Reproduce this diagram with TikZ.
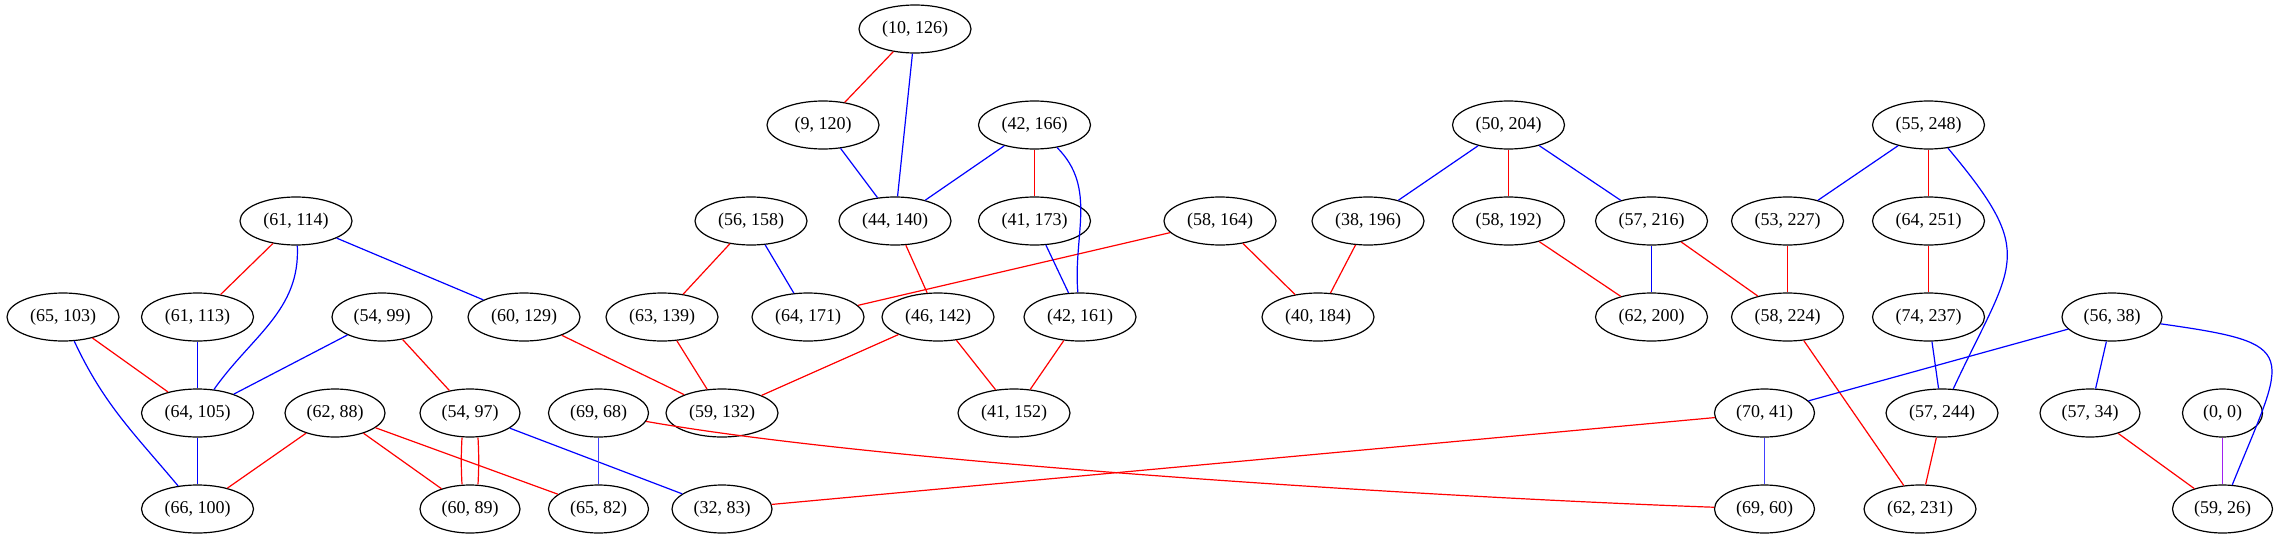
\documentclass[tikz,border=0pt]{standalone}
\usepackage{fontspec}
\setmainfont{Liberation Serif}
\usetikzlibrary{shapes.geometric}

\definecolor{lblue}{RGB}{64,64,255}
\definecolor{vpurple}{RGB}{160,32,240}

\begin{document}
\begin{tikzpicture}[x=0.75pt,y=-0.75pt,
    vtx/.style={draw,ellipse,line width=0.9pt,inner sep=0pt,minimum height=36pt,minimum width=84pt,font=\fontsize{13.5pt}{16pt}\selectfont},
    vtxs/.style={vtx,minimum width=75pt},
    vtxt/.style={vtx,minimum width=60pt},
    re/.style={red,line width=0.9pt},
    be/.style={blue,line width=0.9pt},
    lbe/.style={lblue,line width=0.9pt},
    pe/.style={vpurple,line width=0.9pt}]

    % white page
    \useasboundingbox (0,0) rectangle (2282,539);

    % rank 0 and 1
    \node[vtx]  (n10x126) at (915,29)  {(10, 126)};
    \node[vtx]  (n9x120)  at (823,125) {(9, 120)};
    \node[vtx]  (n42x166) at (1034.5,125) {(42, 166)};
    \node[vtx]  (n50x204) at (1508.5,125) {(50, 204)};
    \node[vtx]  (n55x248) at (1928.5,125) {(55, 248)};

    % rank 2
    \node[vtx]  (n61x114) at (296,221)  {(61, 114)};
    \node[vtx]  (n56x158) at (751,221)  {(56, 158)};
    \node[vtx]  (n44x140) at (895,221)  {(44, 140)};
    \node[vtx]  (n41x173) at (1034.5,221) {(41, 173)};
    \node[vtx]  (n58x164) at (1220,221) {(58, 164)};
    \node[vtx]  (n38x196) at (1368,221) {(38, 196)};
    \node[vtx]  (n58x192) at (1508.5,221) {(58, 192)};
    \node[vtx]  (n57x216) at (1651.5,221) {(57, 216)};
    \node[vtx]  (n53x227) at (1787.5,221) {(53, 227)};
    \node[vtx]  (n64x251) at (1928.5,221) {(64, 251)};

    % rank 3
    \node[vtx]  (n65x103) at (63,317)   {(65, 103)};
    \node[vtx]  (n61x113) at (197.5,317)  {(61, 113)};
    \node[vtxs] (n54x99)  at (382,317)  {(54, 99)};
    \node[vtx]  (n60x129) at (524,317)  {(60, 129)};
    \node[vtx]  (n63x139) at (662,317)  {(63, 139)};
    \node[vtx]  (n64x171) at (808,317)  {(64, 171)};
    \node[vtx]  (n46x142) at (938,317)  {(46, 142)};
    \node[vtx]  (n42x161) at (1080,317) {(42, 161)};
    \node[vtx]  (n40x184) at (1318,317) {(40, 184)};
    \node[vtx]  (n62x200) at (1651.5,317) {(62, 200)};
    \node[vtx]  (n58x224) at (1787.5,317) {(58, 224)};
    \node[vtx]  (n74x237) at (1928.5,317) {(74, 237)};
    \node[vtxs] (n56x38)  at (2112,317) {(56, 38)};

    % rank 4
    \node[vtx]  (n64x105) at (197.5,413)  {(64, 105)};
    \node[vtxs] (n62x88)  at (335,413)  {(62, 88)};
    \node[vtxs] (n54x97)  at (470,413)  {(54, 97)};
    \node[vtxs] (n69x68)  at (598.5,413)  {(69, 68)};
    \node[vtx]  (n59x132) at (722,413)  {(59, 132)};
    \node[vtx]  (n41x152) at (1014,413) {(41, 152)};
    \node[vtxs] (n70x41)  at (1764.5,413) {(70, 41)};
    \node[vtx]  (n57x244) at (1942,413) {(57, 244)};
    \node[vtxs] (n57x34)  at (2090,413) {(57, 34)};
    \node[vtxt] (n0x0)    at (2222.5,413) {(0, 0)};

    % rank 5
    \node[vtx]  (n66x100) at (197.5,509)  {(66, 100)};
    \node[vtxs] (n60x89)  at (470,509)  {(60, 89)};
    \node[vtxs] (n65x82)  at (598.5,509)  {(65, 82)};
    \node[vtxs] (n32x83)  at (722,509)  {(32, 83)};
    \node[vtxs] (n69x60)  at (1764.5,509) {(69, 60)};
    \node[vtx]  (n62x231) at (1920,509) {(62, 231)};
    \node[vtxs] (n59x26)  at (2222.5,509) {(59, 26)};

    % red edges
    \draw[re] (n10x126) -- (n9x120);
    \draw[re] (n42x166) -- (n41x173);
    \draw[re] (n50x204) -- (n58x192);
    \draw[re] (n55x248) -- (n64x251);
    \draw[re] (n61x114) -- (n61x113);
    \draw[re] (n56x158) -- (n63x139);
    \draw[re] (n44x140) -- (n46x142);
    \draw[re] (n58x164) -- (n64x171);
    \draw[re] (n58x164) -- (n40x184);
    \draw[re] (n38x196) -- (n40x184);
    \draw[re] (n58x192) -- (n62x200);
    \draw[re] (n57x216) -- (n58x224);
    \draw[re] (n53x227) -- (n58x224);
    \draw[re] (n64x251) -- (n74x237);
    \draw[re] (n65x103) -- (n64x105);
    \draw[re] (n54x99) -- (n54x97);
    \draw[re] (n60x129) -- (n59x132);
    \draw[re] (n63x139) -- (n59x132);
    \draw[re] (n46x142) -- (n59x132);
    \draw[re] (n46x142) -- (n41x152);
    \draw[re] (n42x161) -- (n41x152);
    \draw[re] (n58x224) -- (n62x231);
    \draw[re] (n57x244) -- (n62x231);
    \draw[re] (n62x88) -- (n66x100);
    \draw[re] (n62x88) -- (n60x89);
    \draw[re] (n62x88) -- (n65x82);
    \draw[re] ([xshift=-6pt]n54x97.south) to[bend right=3] ([xshift=-6pt]n60x89.north);
    \draw[re] ([xshift=6pt]n54x97.south) to[bend left=3] ([xshift=6pt]n60x89.north);
    \draw[re] (n69x68) to[out=-10,in=178,looseness=0.6] (n69x60);
    \draw[re] (n70x41) -- (n32x83);
    \draw[re] (n57x34) -- (n59x26);

    % blue edges
    \draw[be] (n10x126) -- (n44x140);
    \draw[be] (n9x120) -- (n44x140);
    \draw[be] (n42x166) -- (n44x140);
    \draw[be] (n42x166) to[out=-45,in=95] (n42x161);
    \draw[be] (n41x173) -- (n42x161);
    \draw[be] (n50x204) -- (n38x196);
    \draw[be] (n50x204) -- (n57x216);
    \draw[be] (n57x216) -- (n62x200);
    \draw[be] (n55x248) -- (n53x227);
    \draw[be] (n55x248) to[out=-50,in=65,looseness=1.5] (n57x244);
    \draw[be] (n74x237) -- (n57x244);
    \draw[be] (n56x158) -- (n64x171);
    \draw[be] (n61x114) -- (n60x129);
    \draw[be] (n61x114) to[out=-87,in=55] (n64x105);
    \draw[be] (n61x113) -- (n64x105);
    \draw[be] (n54x99) -- (n64x105);
    \draw[be] (n65x103) to[out=-65,in=130] (n66x100);
    \draw[be] (n64x105) -- (n66x100);
    \draw[be] (n54x97) -- (n32x83);
    \draw[be] (n56x38) -- (n70x41);
    \draw[be] (n56x38) -- (n57x34);
    \draw[be] (n56x38) to[out=-8,in=68,looseness=2.1] (n59x26);
    \draw[lbe] (n69x68) -- (n65x82);
    \draw[lbe] (n70x41) -- (n69x60);

    % purple edge
    \draw[pe] (n0x0) -- (n59x26);

\end{tikzpicture}
\end{document}
